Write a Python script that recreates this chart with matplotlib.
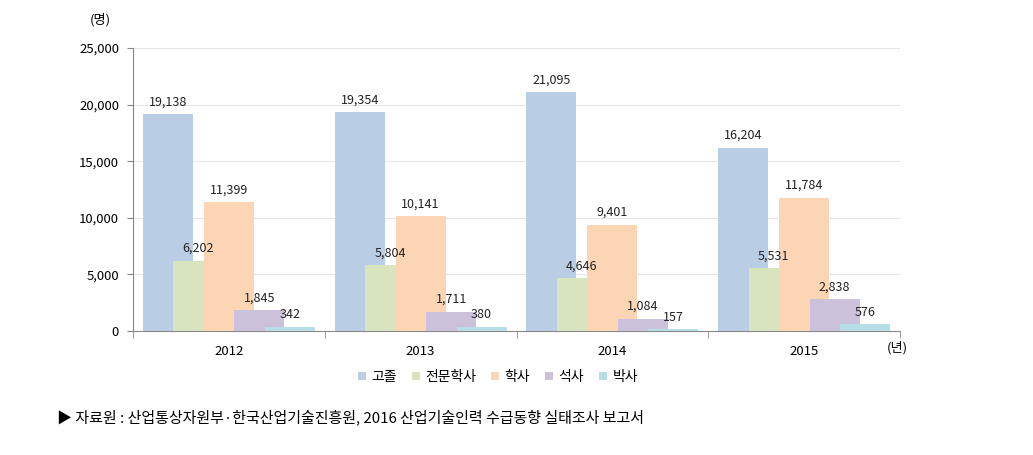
import matplotlib
matplotlib.use("Agg")
import matplotlib.pyplot as plt
import numpy as np

plt.rcParams['font.family'] = ['Noto Sans CJK KR', 'DejaVu Sans']

years = ['2012', '2013', '2014', '2015']
series = ['고졸', '전문학사', '학사', '석사', '박사']
v_high = [19138, 19354, 21095, 16204]
v_assoc = [6202, 5804, 4646, 5531]
v_bach = [11399, 10141, 9401, 11784]
v_mast = [1845, 1711, 1084, 2838]
v_doc = [342, 380, 157, 576]
values = [v_high, v_assoc, v_bach, v_mast, v_doc]
colors = ['#B9CDE5', '#D7E4BD', '#FCD5B5', '#CCC1DA', '#B7DEE8']

fig = plt.figure(figsize=(10.33, 4.55), dpi=100)
ax = fig.add_axes([133/1033, 1-331/455, 767/1033, 283/455])

x = np.arange(len(years))
width = 0.26
step = 0.159
for i, (name, vals, c) in enumerate(zip(series, values, colors)):
    pos = x + (i - 2) * step
    ax.bar(pos, vals, width=width, color=c, label=name, zorder=2 + i)
    for p, v in zip(pos, vals):
        ax.text(p, v + 500, f'{v:,}', ha='center', va='bottom', fontsize=9,
                color='#222222', zorder=10)

ax.set_xlim(-0.5, 3.5)
ax.set_ylim(0, 25000)
ax.set_yticks(np.arange(0, 25001, 5000))
ax.set_yticklabels([f'{t:,}' for t in range(0, 25001, 5000)], fontsize=9.5)
ax.yaxis.grid(True, color='#E6E6E6', linewidth=0.8, zorder=0)
ax.set_axisbelow(True)
ax.set_xticks(x)
ax.set_xticklabels(years, fontsize=9.5)
ax.tick_params(axis='x', length=0, pad=10)
ax.set_xticks(np.arange(-0.5, 3.6, 1), minor=True)
ax.tick_params(axis='x', which='minor', length=5, color='#888888', direction='out')
ax.tick_params(axis='y', length=4, color='#888888', pad=6)
for s in ['top', 'right']:
    ax.spines[s].set_visible(False)
for s in ['left', 'bottom']:
    ax.spines[s].set_color('#888888')

fig.text(100/1033, 1-20/455, '(명)', fontsize=9.5, ha='center', va='center')
fig.text(897/1033, 1-348/455, '(년)', fontsize=9.5, ha='center', va='center')

leg = fig.legend(loc='center', bbox_to_anchor=(498/1033, 1-377/455), ncol=5,
                 frameon=False, fontsize=10, handlelength=0.55, handleheight=0.55,
                 handletextpad=0.4, columnspacing=1.1)

fig.text(57/1033, 1-417/455, '▶ 자료원 : 산업통상자원부·한국산업기술진흥원, 2016 산업기술인력 수급동향 실태조사 보고서',
         fontsize=10.8, ha='left', va='center')

fig.savefig('out.png', dpi=100)
